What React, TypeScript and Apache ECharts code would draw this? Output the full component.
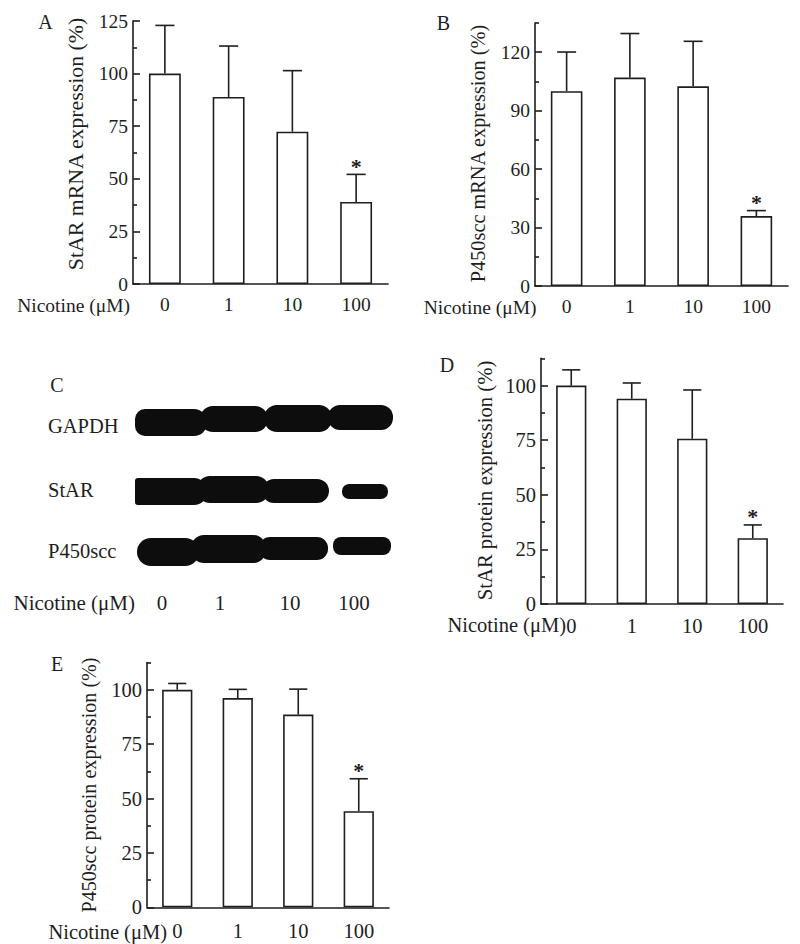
import React, { useEffect, useRef } from "react";
import * as echarts from "echarts";

// ---------- data ----------
const categories = ["0", "1", "10", "100"];
const starMrnaMean = [100, 88.9, 72.4, 39.0];
const starMrnaErr = [22.9, 24.2, 29.0, 13.1];
const p450MrnaMean = [100, 107.0, 102.5, 35.9];
const p450MrnaErr = [20.1, 22.6, 23.1, 2.8];
const starProteinMean = [100, 94.0, 75.7, 30.1];
const starProteinErr = [7.2, 7.2, 22.3, 6.1];
const p450ProteinMean = [100, 96.2, 88.6, 44.2];
const p450ProteinErr = [2.9, 4.0, 11.7, 14.9];
const significant = [false, false, false, true];

const ticksA = [0, 25, 50, 75, 100, 125];
const minorA = [12.5, 37.5, 62.5, 87.5, 112.5];
const ticksB = [0, 30, 60, 90, 120];
const minorB = [15, 45, 75, 105, 135];
const ticksDE = [0, 25, 50, 75, 100];
const minorDE = [12.5, 37.5, 62.5, 87.5, 112.5];

const blotRows = ["GAPDH", "StAR", "P450scc"];
const xTitle = "Nicotine (\u03bcM)";

// ---------- styling / layout ----------
const FONT = '"Liberation Serif", "Times New Roman", Times, serif';
const INK = "#1e1e1e";
const LW = 1.6;

const panels = [
  {
    letter: "A", title: "StAR mRNA expression (%)", mean: starMrnaMean, err: starMrnaErr,
    max: 125, step: 25, majors: ticksA, minors: minorA,
    grid: { left: 133, top: 21, width: 255, height: 263 }, fs: 19.5, xMargin: 10,
    letterPos: [45.5, 22], titlePos: [75.5, 144], titleFs: 21.8, nicPos: [130, 305],
  },
  {
    letter: "B", title: "P450scc mRNA expression (%)", mean: p450MrnaMean, err: p450MrnaErr,
    max: 135, step: 30, majors: ticksB, minors: minorB,
    grid: { left: 535, top: 23, width: 253, height: 263 }, fs: 19.5, xMargin: 10,
    letterPos: [443.5, 23], titlePos: [478, 153.5], titleFs: 20.3, nicPos: [536.5, 307],
  },
  {
    letter: "D", title: "StAR protein expression (%)", mean: starProteinMean, err: starProteinErr,
    max: 112.5, step: 25, majors: ticksDE, minors: minorDE,
    grid: { left: 541, top: 358.3, width: 242, height: 245.7 }, fs: 20.5, xMargin: 11,
    letterPos: [447, 365], titlePos: [485, 480.5], titleFs: 20.7, nicPos: [566, 625],
  },
  {
    letter: "E", title: "P450scc protein expression (%)", mean: p450ProteinMean, err: p450ProteinErr,
    max: 112.5, step: 25, majors: ticksDE, minors: minorDE,
    grid: { left: 147, top: 662.6, width: 242, height: 244.7 }, fs: 20.5, xMargin: 13,
    letterPos: [57, 664], titlePos: [89, 785], titleFs: 20.1, nicPos: [167, 932],
  },
];

// western blot band shapes (picture, not data): [x, y, w, h, rLeft, rRight]
const blotBands: number[][][] = [
  [
    [135, 409, 72, 27, 10, 13], [200, 406, 68, 26, 13, 13], [264, 405, 68, 27, 13, 13], [328, 405, 65, 25, 12, 12],
  ],
  [
    [135, 478, 72, 27, 3, 13], [197, 476, 72, 27, 13, 13], [262, 479, 67, 24, 12, 12], [342, 484, 46, 15, 7, 7],
  ],
  [
    [137, 538, 62, 28, 14, 14], [191, 535, 75, 28, 13, 13], [259, 537, 69, 23, 11, 11], [333, 537, 58, 18, 8, 8],
  ],
];
const blotRowY = [426, 490, 551];
const blotLaneX = [162, 220, 290, 354];

export default function App() {
  const ref = useRef<HTMLDivElement>(null);

  useEffect(() => {
    if (!ref.current) return;
    const chart = echarts.init(ref.current, undefined, { renderer: "svg" });

    const grid: any[] = [];
    const xAxis: any[] = [];
    const yAxis: any[] = [];
    const series: any[] = [];
    const graphic: any[] = [];

    panels.forEach((p, k) => {
      grid.push({ ...p.grid, containLabel: false });
      xAxis.push({
        type: "category",
        gridIndex: k,
        data: categories,
        boundaryGap: true,
        axisLine: { show: true, lineStyle: { color: INK, width: LW } },
        axisTick: { show: false },
        axisLabel: { color: INK, fontFamily: FONT, fontSize: p.fs, margin: p.xMargin },
        splitLine: { show: false },
      });
      yAxis.push({
        type: "value",
        gridIndex: k,
        position: "left",
        min: 0,
        max: p.max,
        interval: p.step,
        axisLine: { show: true, lineStyle: { color: INK, width: LW } },
        axisTick: { show: true, inside: true, length: 7, customValues: p.majors, lineStyle: { color: INK, width: LW } },
        axisLabel: { show: true, customValues: p.majors, color: INK, fontFamily: FONT, fontSize: p.fs, margin: 5 },
        splitLine: { show: false },
      });
      yAxis.push({
        type: "value",
        gridIndex: k,
        position: "left",
        min: 0,
        max: p.max,
        interval: p.step / 2,
        axisLine: { show: false },
        axisTick: { show: true, inside: true, length: 4, customValues: p.minors, lineStyle: { color: INK, width: LW } },
        axisLabel: { show: false },
        splitLine: { show: false },
      });

      series.push({
        type: "bar",
        xAxisIndex: k,
        yAxisIndex: k * 2,
        data: p.mean,
        barWidth: "50%",
        itemStyle: { color: "#ffffff", borderColor: INK, borderWidth: LW },
        z: 2,
      });
      series.push({
        type: "custom",
        xAxisIndex: k,
        yAxisIndex: k * 2,
        data: p.mean.map((m, i) => [i, m, p.err[i], significant[i] ? 1 : 0]),
        encode: { x: 0, y: 1 },
        z: 3,
        renderItem: (params: any, api: any) => {
          const i = api.value(0);
          const m = api.value(1);
          const e = api.value(2);
          const sig = api.value(3);
          const base = api.coord([i, m]);
          const top = api.coord([i, m + e]);
          const half = api.size([1, 0])[0] * 0.15;
          const st = { stroke: INK, lineWidth: LW, fill: "none" };
          const children: any[] = [
            { type: "line", shape: { x1: base[0], y1: base[1], x2: top[0], y2: top[1] }, style: st },
            { type: "line", shape: { x1: top[0] - half, y1: top[1], x2: top[0] + half, y2: top[1] }, style: st },
          ];
          if (sig) {
            children.push({
              type: "text",
              x: top[0],
              y: top[1] + 3,
              style: {
                text: "*",
                fill: INK,
                font: `bold 22px ${FONT}`,
                textAlign: "center",
                textVerticalAlign: "bottom",
              },
            });
          }
          return { type: "group", children };
        },
      });

      graphic.push({
        type: "text",
        x: p.letterPos[0],
        y: p.letterPos[1],
        style: { text: p.letter, fill: INK, font: `20px ${FONT}`, textAlign: "center", textVerticalAlign: "middle" },
      });
      graphic.push({
        type: "text",
        x: p.titlePos[0],
        y: p.titlePos[1],
        rotation: Math.PI / 2,
        style: { text: p.title, fill: INK, font: `${p.titleFs}px ${FONT}`, textAlign: "center", textVerticalAlign: "middle" },
      });
      graphic.push({
        type: "text",
        x: p.nicPos[0],
        y: p.nicPos[1],
        style: { text: xTitle, fill: INK, font: `${p.fs}px ${FONT}`, textAlign: "right", textVerticalAlign: "middle" },
      });
    });

    // Panel C: western blot
    graphic.push({
      type: "text", x: 57, y: 385,
      style: { text: "C", fill: INK, font: `20px ${FONT}`, textAlign: "center", textVerticalAlign: "middle" },
    });
    blotRows.forEach((name, r) => {
      graphic.push({
        type: "text", x: 48, y: blotRowY[r],
        style: { text: name, fill: INK, font: `20.5px ${FONT}`, textAlign: "left", textVerticalAlign: "middle" },
      });
      blotBands[r].forEach((b) => {
        graphic.push({
          type: "rect",
          shape: { x: b[0], y: b[1], width: b[2], height: b[3], r: [b[4], b[5], b[5], b[4]] },
          style: { fill: "#0d0d0d" },
        });
      });
    });
    graphic.push({
      type: "text", x: 135, y: 603,
      style: { text: xTitle, fill: INK, font: `21px ${FONT}`, textAlign: "right", textVerticalAlign: "middle" },
    });
    categories.forEach((c, i) => {
      graphic.push({
        type: "text", x: blotLaneX[i], y: 603,
        style: { text: c, fill: INK, font: `21px ${FONT}`, textAlign: "center", textVerticalAlign: "middle" },
      });
    });

    chart.setOption({
      animation: false,
      backgroundColor: "#ffffff",
      grid,
      xAxis,
      yAxis,
      series,
      graphic,
    });

    return () => chart.dispose();
  }, []);

  return (
    <div
      ref={ref}
      style={{ position: "absolute", left: 0, top: 0, width: 800, height: 944 }}
    />
  );
}
